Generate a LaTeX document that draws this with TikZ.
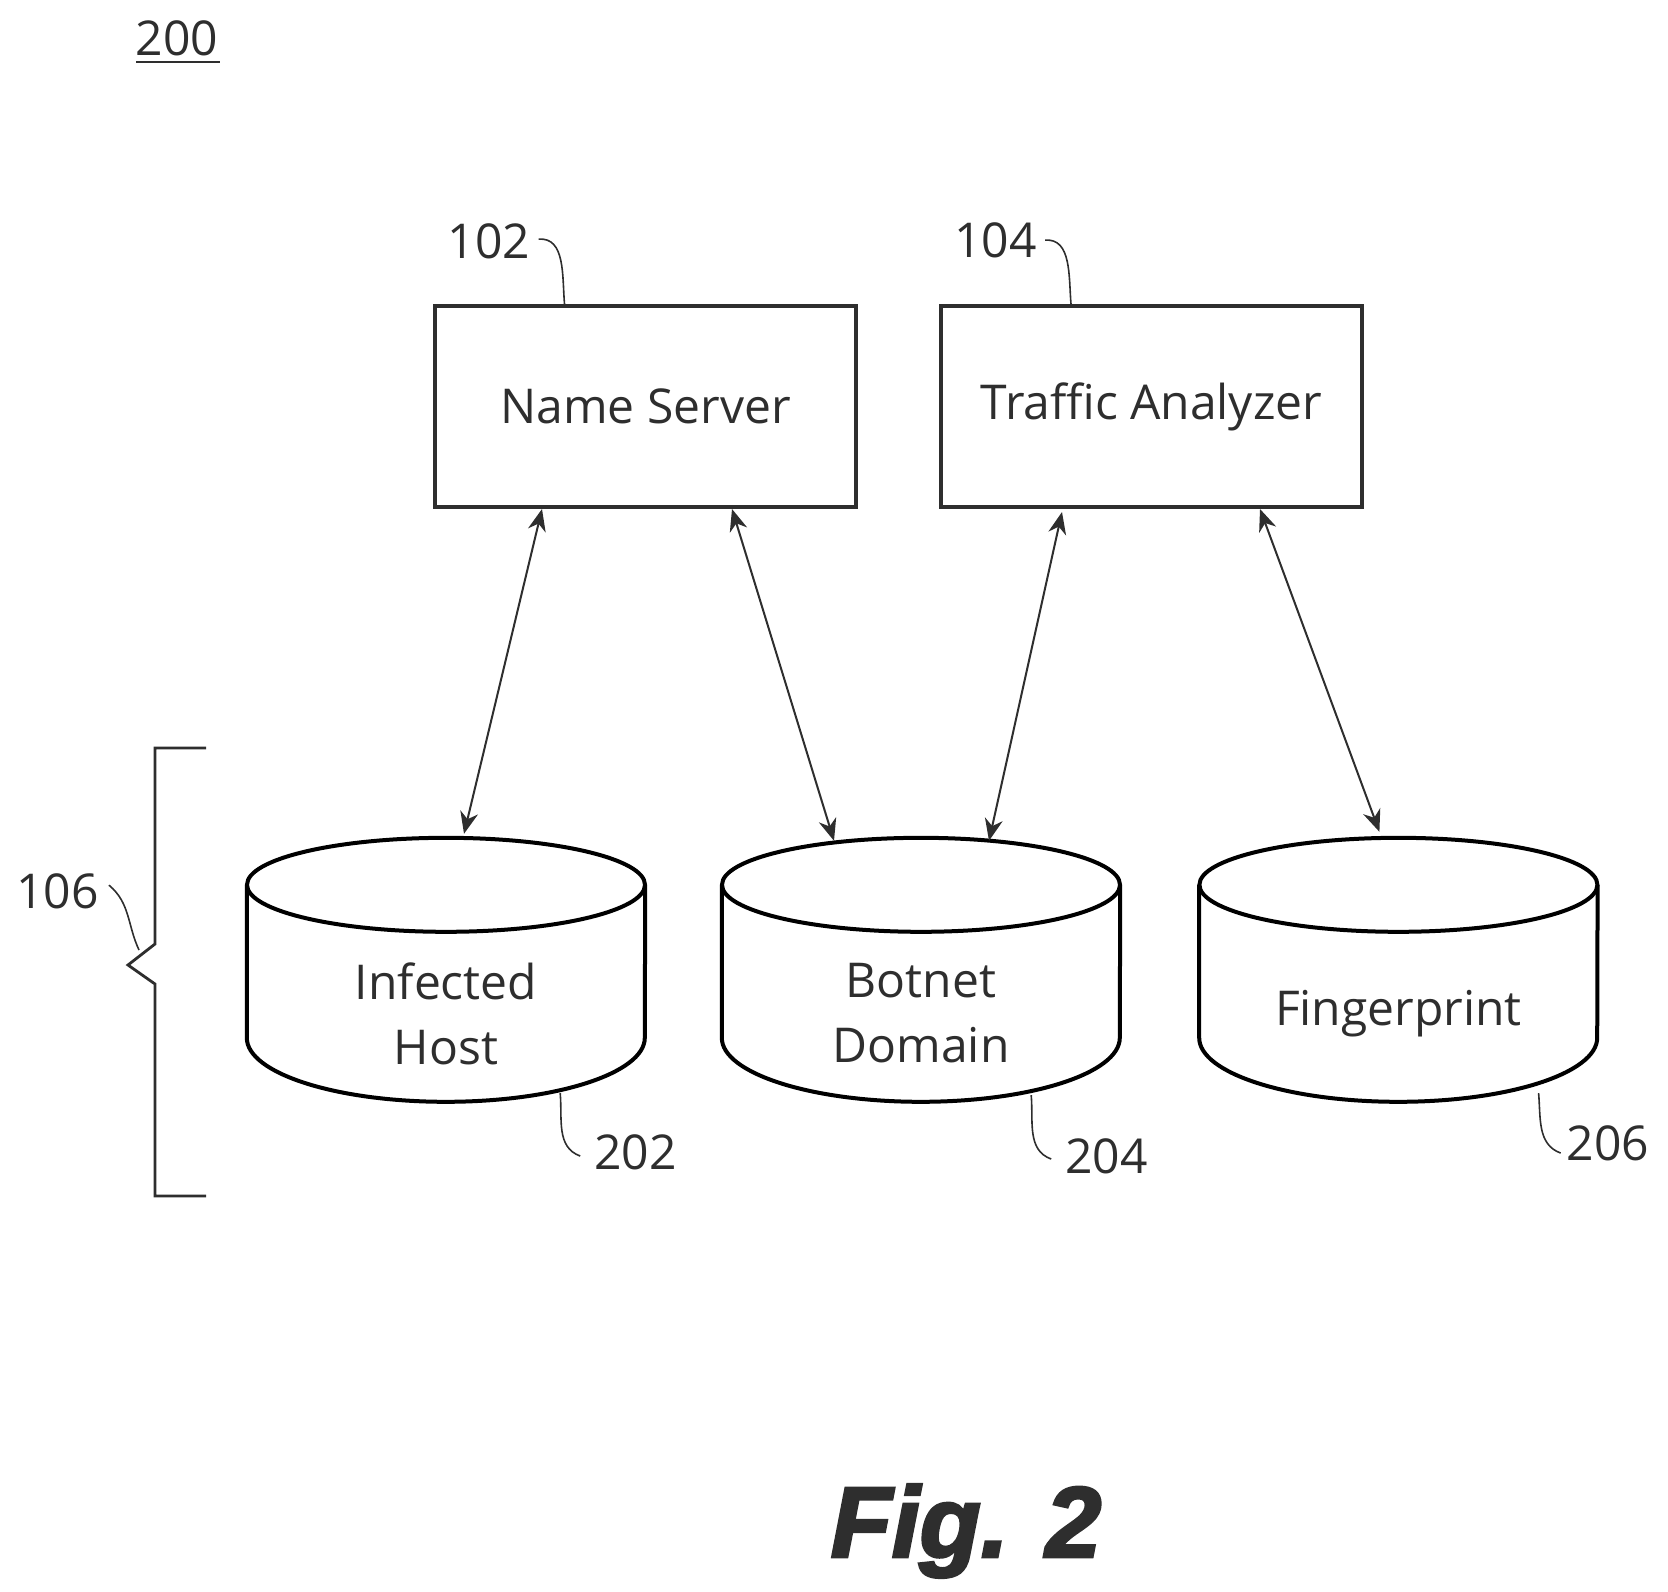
\documentclass[tikz,border=0pt]{standalone}
\usepackage{fontspec}
\setmainfont{Open Sans}
\newfontfamily\figfont[FakeBold=3]{Liberation Sans}
\usetikzlibrary{arrows.meta, positioning}
\colorlet{inkgray}{black!82}

% cylinder: the node is the body below the top ellipse
\newcommand{\dbnode}[4][]{%
  \node[dbbody, #1] (#2) #3 {#4};
  \coordinate (#2top) at ([yshift=95pt]#2.north);
  \draw[dbline] ([yshift=48pt]#2.north west) -- ([yshift=-105pt]#2.north west)
    arc[start angle=180, end angle=360, x radius=199pt, y radius=64pt]
    -- ([yshift=48pt]#2.north east);
  \draw[dbline] ([yshift=48pt]#2.north) ellipse [x radius=199pt, y radius=47pt];
}

\begin{document}
\begin{tikzpicture}[x=1pt, y=-1pt, >={Stealth[length=22pt, width=18pt, inset=7pt]}, font=\fontsize{48}{65}\selectfont, text=inkgray,
  boxnode/.style={rectangle, draw=inkgray, line width=4pt, minimum width=421pt, minimum height=201pt},
  dbbody/.style={rectangle, align=center, inner sep=0pt, minimum width=398pt, minimum height=161pt},
  dbline/.style={line width=4pt},
  reflabel/.style={inner sep=0pt},
  leader/.style={draw=inkgray, line width=1.6pt},
  linkarrow/.style={<->, draw=inkgray, line width=2pt},
  bracket/.style={draw=inkgray, line width=2.8pt}]

\useasboundingbox (0,0) rectangle (1668,1591);

% Nodes
\node[boxnode] (ns) at (645.5,406.5) {Name Server};
\node[boxnode, right=81pt of ns] (ta) {Traffic Analyzer};
\dbnode{host}{at (446,1013.5)}{Infected\\Host}
\dbnode[right=76.6pt of host]{botnet}{}{Botnet\\Domain}
\dbnode[right=79pt of botnet]{finger}{}{Fingerprint}

% Bracket
\coordinate (notch) at (128,965);
\coordinate (notchtop) at (139,950);
\draw[bracket] (206,748) -- (155,748) -- (155,944) -- (notch) -- (155,984) -- (155,1196) -- (206,1196);

% Edges
\draw[linkarrow] ([xshift=-103.5pt]ns.south) -- ([xshift=18pt, yshift=4pt]hosttop);
\draw[linkarrow] ([xshift=86.5pt]ns.south) -- ([xshift=-87pt, yshift=-3pt]botnettop);
\draw[linkarrow] ([xshift=-89.5pt, yshift=-3pt]ta.south) -- ([xshift=68pt, yshift=-3pt]botnettop);
\draw[linkarrow] ([xshift=108.5pt]ta.south) -- ([xshift=-19pt, yshift=6pt]fingertop);

% Labels
\node[reflabel] (n200) at (177,38) {200};
\draw[draw=inkgray, line width=2.6pt] (136,62) -- (220,62);
\node[reflabel, above left=45pt and -97.5pt of ns] (n102) {102};
\node[reflabel, above left=46pt and -98pt of ta] (n104) {104};
\node[reflabel, above left=56pt and 29pt of notch] (n106) {106};
\node[reflabel, below right=40pt and -51pt of host] (n202) {202};
\node[reflabel, below right=44pt and -55pt of botnet] (n204) {204};
\node[reflabel, below right=31pt and -31pt of finger] (n206) {206};
\node[reflabel, font=\fontsize{100}{100}\figfont\bfseries\itshape] (figname) at (966,1531) {Fig. 2};

% Leaders
\draw[leader] ([xshift=8pt, yshift=2pt]n102.east) to[out=5, in=95] ([xshift=-81pt]ns.north);
\draw[leader] ([xshift=8pt]n104.east) to[out=5, in=95] ([xshift=-80.5pt]ta.north);
\draw[leader] ([xshift=10pt, yshift=6pt]n106.east) to[out=-40, in=115] (notchtop);
\draw[leader] ([xshift=-85pt, yshift=1pt]host.south east) to[out=-85, in=160] ([xshift=-14pt, yshift=-4pt]n202.west);
\draw[leader] ([xshift=-89pt, yshift=-1pt]botnet.south east) to[out=-85, in=160] ([xshift=-14pt, yshift=-3pt]n204.west);
\draw[leader] ([xshift=-59pt, yshift=1pt]finger.south east) to[out=-85, in=160] ([xshift=-6pt, yshift=-10pt]n206.west);
\end{tikzpicture}
\end{document}
